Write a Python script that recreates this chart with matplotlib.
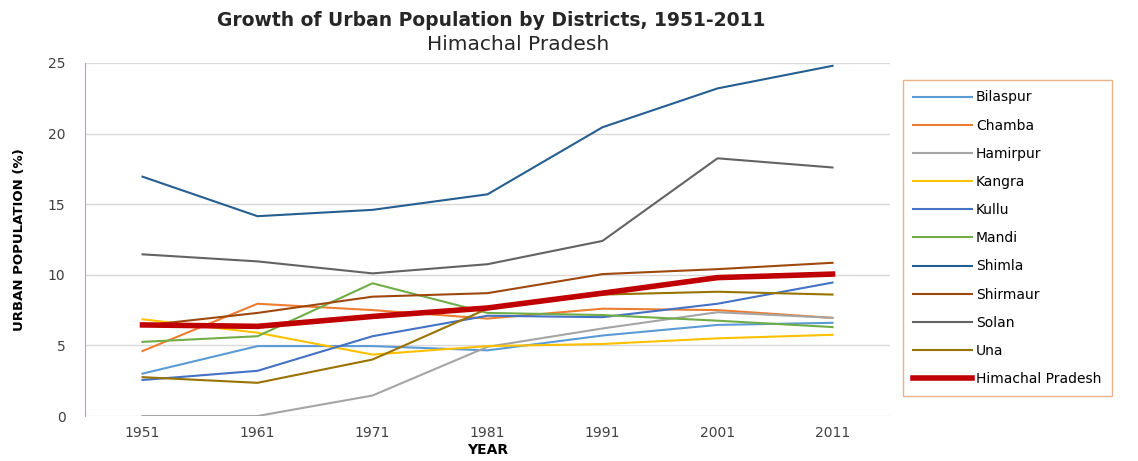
import matplotlib
matplotlib.use("Agg")
import matplotlib.pyplot as plt

years = ["1951", "1961", "1971", "1981", "1991", "2001", "2011"]

bilaspur = [3.0, 4.95, 4.95, 4.65, 5.7, 6.45, 6.6]
chamba = [4.6, 7.95, 7.5, 6.9, 7.6, 7.5, 6.95]
hamirpur = [0.0, 0.0, 1.45, 4.9, 6.2, 7.35, 6.95]
kangra = [6.85, 5.9, 4.35, 4.95, 5.1, 5.5, 5.75]
kullu = [2.55, 3.2, 5.65, 7.1, 7.0, 7.95, 9.45]
mandi = [5.25, 5.65, 9.4, 7.3, 7.15, 6.75, 6.3]
shimla = [16.95, 14.15, 14.6, 15.7, 20.45, 23.2, 24.8]
shirmaur = [6.4, 7.3, 8.45, 8.7, 10.05, 10.4, 10.85]
solan = [11.45, 10.95, 10.1, 10.75, 12.4, 18.25, 17.6]
una = [2.75, 2.35, 4.0, 7.6, 8.6, 8.8, 8.6]
himachal = [6.45, 6.35, 7.05, 7.65, 8.7, 9.8, 10.05]

series = [
    ("Bilaspur", bilaspur, "#5B9BD5"),
    ("Chamba", chamba, "#ED7D31"),
    ("Hamirpur", hamirpur, "#A5A5A5"),
    ("Kangra", kangra, "#FFC000"),
    ("Kullu", kullu, "#4472C4"),
    ("Mandi", mandi, "#70AD47"),
    ("Shimla", shimla, "#255E91"),
    ("Shirmaur", shirmaur, "#9E480E"),
    ("Solan", solan, "#636363"),
    ("Una", una, "#997300"),
]

fig = plt.figure(figsize=(11.38, 4.61), dpi=100)
ax = fig.add_axes([85 / 1138, 45 / 461, 805 / 1138, 353 / 461])

x = range(len(years))
for name, vals, col in series:
    ax.plot(x, vals, color=col, lw=1.5, label=name)
ax.plot(x, himachal, color="#C00000", lw=4, label="Himachal Pradesh")

ax.set_xlim(-0.5, 6.5)
ax.set_ylim(0, 25)
ax.set_yticks([0, 5, 10, 15, 20, 25])
ax.set_xticks(list(x))
ax.set_xticklabels(years)
ax.grid(axis="y", color="#D9D9D9", lw=1)
ax.set_axisbelow(True)
for s in ["top", "right", "bottom"]:
    ax.spines[s].set_visible(False)
ax.spines["left"].set_color("#8EB4CB")
ax.tick_params(axis="both", length=0, labelsize=10, colors="#404040")
ax.tick_params(axis="x", pad=7)
ax.tick_params(axis="y", pad=14)

ax.set_xlabel("YEAR", fontsize=10, fontweight="bold", labelpad=2)
ax.set_ylabel("URBAN POPULATION (%)", fontsize=9.5, fontweight="bold", labelpad=16)

fig.text(491 / 1138, 1 - 20 / 461, "Growth of Urban Population by Districts, 1951-2011",
         ha="center", va="center", fontsize=13.5, fontweight="bold", color="#262626")
fig.text(518 / 1138, 1 - 45 / 461, "Himachal Pradesh",
         ha="center", va="center", fontsize=14.5, color="#262626")

leg = fig.legend(loc="upper left", bbox_to_anchor=(903 / 1138, 1 - 80 / 461),
                 frameon=True, fancybox=False, fontsize=10, handlelength=4.2,
                 labelspacing=1.02, borderpad=0.75, handletextpad=0.3, borderaxespad=0)
leg.get_frame().set_edgecolor("#E0A070")
leg.get_frame().set_linewidth(1.0)

fig.savefig("out.png", dpi=100)
